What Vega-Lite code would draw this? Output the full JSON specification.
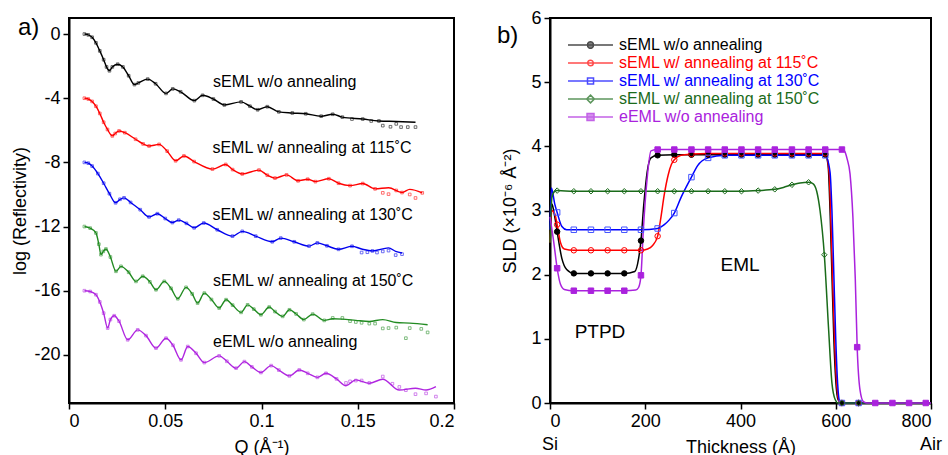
{
  "$schema": "https://vega.github.io/schema/vega-lite/v6.json",
  "background": "white",
  "padding": {"left": 10, "top": 8, "right": 0, "bottom": 0},
  "spacing": 40,
  "config": {
    "font": "Liberation Sans",
    "view": {"stroke": "black", "strokeWidth": 2},
    "axis": {"grid": false, "domainColor": "black", "domainWidth": 2, "tickColor": "black", "tickWidth": 1.5, "tickSize": 6, "labelColor": "black", "titleColor": "black", "labelFontSize": 18, "titleFontSize": 18, "titleFontWeight": "normal", "labelFont": "Liberation Sans", "titleFont": "Liberation Sans", "labelPadding": 3},
    "title": {"fontSize": 24, "fontWeight": "normal", "font": "Liberation Sans", "anchor": "start", "frame": "group", "color": "black"}
  },
  "resolve": {"scale": {"color": "independent", "shape": "independent", "fill": "independent", "stroke": "independent"}, "legend": {"shape": "independent", "color": "independent", "fill": "independent", "stroke": "independent"}},
  "datasets": {
    "refl": [
      {"s":"k","q":0.008,"f":0,"d":0},{"s":"k","q":0.010,"f":-0.05,"d":-0.05},{"s":"k","q":0.012,"f":-0.2,"d":-0.2},{"s":"k","q":0.014,"f":-0.55,"d":-0.55},{"s":"k","q":0.016,"f":-1.05,"d":-1.05},{"s":"k","q":0.018,"f":-1.6,"d":-1.6},{"s":"k","q":0.0195,"f":-2.05,"d":-2.05},{"s":"k","q":0.021,"f":-2.29,"d":-2.29},{"s":"k","q":0.0225,"f":-2.05,"d":-2.05},{"s":"k","q":0.0253,"f":-1.88,"d":-1.88},{"s":"k","q":0.028,"f":-2.05,"d":-2.05},{"s":"k","q":0.031,"f":-2.6,"d":-2.6},{"s":"k","q":0.034,"f":-3.15,"d":-3.15},{"s":"k","q":0.036,"f":-3.05,"d":-3.05},{"s":"k","q":0.0409,"f":-2.81,"d":-2.81},{"s":"k","q":0.045,"f":-3.1,"d":-3.1},{"s":"k","q":0.0504,"f":-3.7,"d":-3.7},{"s":"k","q":0.0539,"f":-3.42,"d":-3.42},{"s":"k","q":0.058,"f":-3.6,"d":-3.6},{"s":"k","q":0.0651,"f":-4.15,"d":-4.15},{"s":"k","q":0.0694,"f":-3.82,"d":-3.82},{"s":"k","q":0.075,"f":-4.05,"d":-4.05},{"s":"k","q":0.0807,"f":-4.42,"d":-4.42},{"s":"k","q":0.0894,"f":-4.23,"d":-4.23},{"s":"k","q":0.094,"f":-4.5,"d":-4.5},{"s":"k","q":0.098,"f":-4.72,"d":-4.72},{"s":"k","q":0.103,"f":-4.53,"d":-4.53},{"s":"k","q":0.109,"f":-4.85,"d":-4.85},{"s":"k","q":0.116,"f":-4.92,"d":-4.92},{"s":"k","q":0.123,"f":-4.97,"d":-4.97},{"s":"k","q":0.131,"f":-5.12,"d":-5.12},{"s":"k","q":0.137,"f":-5.0,"d":-5.0},{"s":"k","q":0.142,"f":-5.18,"d":-5.18},{"s":"k","q":0.1526,"f":-5.3,"d":-5.3},{"s":"k","q":0.161,"f":-5.42,"d":-5.42},{"s":"k","q":0.170,"f":-5.45,"d":-5.6},{"s":"k","q":0.180,"f":-5.5,"d":-5.8},{"s":"k","q":0.163,"d":-5.71},{"s":"k","q":0.167,"d":-5.78},{"s":"k","q":0.1725,"d":-5.8},{"s":"k","q":0.176,"d":-5.8},{"s":"k","q":0.157,"d":-5.42},{"s":"k","q":0.147,"d":-5.3},
      {"s":"r","q":0.008,"f":-4.0,"d":-4.0},{"s":"r","q":0.010,"f":-4.05,"d":-4.05},{"s":"r","q":0.012,"f":-4.2,"d":-4.2},{"s":"r","q":0.014,"f":-4.5,"d":-4.5},{"s":"r","q":0.016,"f":-4.95,"d":-4.95},{"s":"r","q":0.018,"f":-5.5,"d":-5.5},{"s":"r","q":0.020,"f":-5.95,"d":-5.95},{"s":"r","q":0.0225,"f":-6.35,"d":-6.35},{"s":"r","q":0.024,"f":-6.2,"d":-6.2},{"s":"r","q":0.026,"f":-6.04,"d":-6.04},{"s":"r","q":0.029,"f":-6.15,"d":-6.15},{"s":"r","q":0.0346,"f":-6.56,"d":-6.56},{"s":"r","q":0.0385,"f":-6.85,"d":-6.85},{"s":"r","q":0.0416,"f":-6.98,"d":-6.98},{"s":"r","q":0.0468,"f":-6.88,"d":-6.88},{"s":"r","q":0.051,"f":-7.3,"d":-7.3},{"s":"r","q":0.0554,"f":-7.9,"d":-7.9},{"s":"r","q":0.0597,"f":-7.6,"d":-7.6},{"s":"r","q":0.065,"f":-7.95,"d":-7.95},{"s":"r","q":0.0745,"f":-8.42,"d":-8.42},{"s":"r","q":0.0814,"f":-8.13,"d":-8.13},{"s":"r","q":0.085,"f":-8.45,"d":-8.45},{"s":"r","q":0.090,"f":-8.72,"d":-8.72},{"s":"r","q":0.0987,"f":-8.48,"d":-8.48},{"s":"r","q":0.103,"f":-8.8,"d":-8.8},{"s":"r","q":0.107,"f":-8.98,"d":-8.98},{"s":"r","q":0.113,"f":-8.78,"d":-8.78},{"s":"r","q":0.119,"f":-9.15,"d":-9.15},{"s":"r","q":0.124,"f":-9.05,"d":-9.05},{"s":"r","q":0.128,"f":-9.2,"d":-9.2},{"s":"r","q":0.135,"f":-9.02,"d":-9.02},{"s":"r","q":0.140,"f":-9.3,"d":-9.3},{"s":"r","q":0.146,"f":-9.45,"d":-9.45},{"s":"r","q":0.1526,"f":-9.32,"d":-9.32},{"s":"r","q":0.159,"f":-9.65,"d":-9.65},{"s":"r","q":0.166,"f":-9.58,"d":-9.98},{"s":"r","q":0.173,"f":-9.88,"d":-9.88},{"s":"r","q":0.177,"f":-9.68,"d":-10.0},{"s":"r","q":0.1835,"f":-9.9,"d":-9.9},{"s":"r","q":0.163,"d":-9.9},{"s":"r","q":0.180,"d":-10.22},{"s":"r","q":0.170,"d":-9.75},
      {"s":"b","q":0.008,"f":-8.0,"d":-8.0},{"s":"b","q":0.010,"f":-8.05,"d":-8.05},{"s":"b","q":0.012,"f":-8.23,"d":-8.23},{"s":"b","q":0.015,"f":-8.7,"d":-8.7},{"s":"b","q":0.018,"f":-9.3,"d":-9.3},{"s":"b","q":0.021,"f":-9.95,"d":-9.95},{"s":"b","q":0.0242,"f":-10.52,"d":-10.52},{"s":"b","q":0.0265,"f":-10.3,"d":-10.3},{"s":"b","q":0.0286,"f":-10.21,"d":-10.21},{"s":"b","q":0.032,"f":-10.5,"d":-10.5},{"s":"b","q":0.037,"f":-10.95,"d":-10.95},{"s":"b","q":0.0416,"f":-11.4,"d":-11.4},{"s":"b","q":0.0459,"f":-11.2,"d":-11.2},{"s":"b","q":0.050,"f":-11.5,"d":-11.5},{"s":"b","q":0.0537,"f":-11.75,"d":-11.75},{"s":"b","q":0.057,"f":-11.6,"d":-11.6},{"s":"b","q":0.061,"f":-11.8,"d":-11.8},{"s":"b","q":0.065,"f":-12.08,"d":-12.08},{"s":"b","q":0.070,"f":-11.78,"d":-11.78},{"s":"b","q":0.077,"f":-12.2,"d":-12.2},{"s":"b","q":0.0849,"f":-12.6,"d":-12.6},{"s":"b","q":0.090,"f":-12.3,"d":-12.3},{"s":"b","q":0.097,"f":-12.6,"d":-12.6},{"s":"b","q":0.1056,"f":-12.95,"d":-12.95},{"s":"b","q":0.110,"f":-12.72,"d":-12.72},{"s":"b","q":0.117,"f":-12.95,"d":-12.95},{"s":"b","q":0.1247,"f":-13.22,"d":-13.22},{"s":"b","q":0.129,"f":-13.02,"d":-13.02},{"s":"b","q":0.134,"f":-13.2,"d":-13.2},{"s":"b","q":0.140,"f":-13.42,"d":-13.42},{"s":"b","q":0.147,"f":-13.23,"d":-13.23},{"s":"b","q":0.152,"f":-13.4,"d":-13.62},{"s":"b","q":0.1576,"f":-13.52,"d":-13.52},{"s":"b","q":0.166,"f":-13.33,"d":-13.5},{"s":"b","q":0.1697,"f":-13.55,"d":-13.78},{"s":"b","q":0.173,"f":-13.65,"d":-13.72},{"s":"b","q":0.155,"d":-13.6},{"s":"b","q":0.160,"d":-13.62},{"s":"b","q":0.163,"d":-13.55},
      {"s":"g","q":0.008,"f":-12.0,"d":-12.0},{"s":"g","q":0.011,"f":-12.1,"d":-12.1},{"s":"g","q":0.014,"f":-12.4,"d":-12.4},{"s":"g","q":0.0155,"f":-13.1,"d":-13.1},{"s":"g","q":0.0166,"f":-13.75,"d":-13.75},{"s":"g","q":0.0178,"f":-13.55,"d":-13.55},{"s":"g","q":0.0192,"f":-13.4,"d":-13.4},{"s":"g","q":0.0215,"f":-13.9,"d":-13.9},{"s":"g","q":0.0244,"f":-14.79,"d":-14.79},{"s":"g","q":0.027,"f":-14.48,"d":-14.48},{"s":"g","q":0.031,"f":-14.85,"d":-14.85},{"s":"g","q":0.0348,"f":-15.42,"d":-15.42},{"s":"g","q":0.0383,"f":-15.1,"d":-15.1},{"s":"g","q":0.042,"f":-15.45,"d":-15.45},{"s":"g","q":0.0452,"f":-15.94,"d":-15.94},{"s":"g","q":0.0495,"f":-15.42,"d":-15.42},{"s":"g","q":0.053,"f":-15.85,"d":-15.85},{"s":"g","q":0.0565,"f":-16.5,"d":-16.5},{"s":"g","q":0.0608,"f":-15.79,"d":-15.79},{"s":"g","q":0.064,"f":-16.2,"d":-16.2},{"s":"g","q":0.0668,"f":-16.77,"d":-16.77},{"s":"g","q":0.0703,"f":-16.15,"d":-16.15},{"s":"g","q":0.074,"f":-16.55,"d":-16.55},{"s":"g","q":0.078,"f":-17.08,"d":-17.08},{"s":"g","q":0.0816,"f":-16.56,"d":-16.56},{"s":"g","q":0.085,"f":-16.9,"d":-16.9},{"s":"g","q":0.0894,"f":-17.35,"d":-17.35},{"s":"g","q":0.0928,"f":-16.88,"d":-16.88},{"s":"g","q":0.096,"f":-17.15,"d":-17.15},{"s":"g","q":0.0997,"f":-17.5,"d":-17.5},{"s":"g","q":0.104,"f":-17.02,"d":-17.02},{"s":"g","q":0.107,"f":-17.3,"d":-17.3},{"s":"g","q":0.111,"f":-17.6,"d":-17.6},{"s":"g","q":0.1145,"f":-17.19,"d":-17.19},{"s":"g","q":0.118,"f":-17.45,"d":-17.45},{"s":"g","q":0.122,"f":-17.8,"d":-17.8},{"s":"g","q":0.1266,"f":-17.46,"d":-17.46},{"s":"g","q":0.1326,"f":-17.85,"d":-17.85},{"s":"g","q":0.137,"f":-17.75,"d":-17.7},{"s":"g","q":0.142,"f":-17.77,"d":-17.7},{"s":"g","q":0.149,"f":-17.85,"d":-17.95},{"s":"g","q":0.156,"f":-17.92,"d":-18.05},{"s":"g","q":0.163,"f":-17.8,"d":-18.35},{"s":"g","q":0.170,"f":-17.98,"d":-18.3},{"s":"g","q":0.177,"f":-18.02,"d":-18.33},{"s":"g","q":0.1863,"f":-18.12,"d":-18.6},{"s":"g","q":0.146,"d":-17.9},{"s":"g","q":0.152,"d":-18.0},{"s":"g","q":0.159,"d":-18.05},{"s":"g","q":0.166,"d":-18.33},{"s":"g","q":0.175,"d":-18.96},{"s":"g","q":0.183,"d":-18.38},
      {"s":"m","q":0.008,"f":-16.0,"d":-16.0},{"s":"m","q":0.011,"f":-16.05,"d":-16.05},{"s":"m","q":0.014,"f":-16.25,"d":-16.25},{"s":"m","q":0.016,"f":-16.7,"d":-16.7},{"s":"m","q":0.018,"f":-17.4,"d":-17.4},{"s":"m","q":0.0201,"f":-18.33,"d":-18.33},{"s":"m","q":0.0215,"f":-17.8,"d":-17.8},{"s":"m","q":0.0235,"f":-17.56,"d":-17.56},{"s":"m","q":0.026,"f":-17.9,"d":-17.9},{"s":"m","q":0.0305,"f":-19.06,"d":-19.06},{"s":"m","q":0.0357,"f":-18.44,"d":-18.44},{"s":"m","q":0.040,"f":-18.8,"d":-18.8},{"s":"m","q":0.0452,"f":-19.58,"d":-19.58},{"s":"m","q":0.0504,"f":-18.96,"d":-18.96},{"s":"m","q":0.054,"f":-19.4,"d":-19.4},{"s":"m","q":0.0582,"f":-20.31,"d":-20.31},{"s":"m","q":0.0617,"f":-19.48,"d":-19.48},{"s":"m","q":0.066,"f":-19.9,"d":-19.9},{"s":"m","q":0.0703,"f":-20.48,"d":-20.48},{"s":"m","q":0.078,"f":-20.06,"d":-20.06},{"s":"m","q":0.082,"f":-20.4,"d":-20.4},{"s":"m","q":0.0868,"f":-20.83,"d":-20.83},{"s":"m","q":0.0911,"f":-20.42,"d":-20.42},{"s":"m","q":0.095,"f":-20.75,"d":-20.75},{"s":"m","q":0.0997,"f":-21.1,"d":-21.1},{"s":"m","q":0.105,"f":-20.67,"d":-20.67},{"s":"m","q":0.109,"f":-20.95,"d":-20.95},{"s":"m","q":0.1145,"f":-21.31,"d":-21.31},{"s":"m","q":0.1196,"f":-20.94,"d":-20.94},{"s":"m","q":0.124,"f":-21.15,"d":-21.15},{"s":"m","q":0.129,"f":-21.4,"d":-21.4},{"s":"m","q":0.1335,"f":-21.15,"d":-21.15},{"s":"m","q":0.139,"f":-21.5,"d":-21.5},{"s":"m","q":0.1439,"f":-21.92,"d":-21.75},{"s":"m","q":0.149,"f":-21.56,"d":-21.6},{"s":"m","q":0.156,"f":-21.77,"d":-21.75},{"s":"m","q":0.163,"f":-21.52,"d":-21.35},{"s":"m","q":0.1716,"f":-22.19,"d":-22.0},{"s":"m","q":0.180,"f":-22.08,"d":-22.45},{"s":"m","q":0.1855,"f":-22.19,"d":-22.4},{"s":"m","q":0.1906,"f":-21.98,"d":-22.6},{"s":"m","q":0.146,"d":-21.65},{"s":"m","q":0.152,"d":-21.6},{"s":"m","q":0.175,"d":-22.2},{"s":"m","q":0.168,"d":-21.8}
    ],
    "sld": [
      {"s":"k","t":0,"v":2.4},{"s":"k","t":4,"v":3.1},{"s":"k","t":10,"v":2.9},{"s":"k","t":15,"v":2.67,"m":1},{"s":"k","t":25,"v":2.25},{"s":"k","t":35,"v":2.08},{"s":"k","t":50,"v":2.02,"m":1},{"s":"k","t":86,"v":2.02,"m":1},{"s":"k","t":121,"v":2.02,"m":1},{"s":"k","t":156,"v":2.02,"m":1},{"s":"k","t":178,"v":2.05},{"s":"k","t":186,"v":2.25},{"s":"k","t":191,"v":2.53,"m":1},{"s":"k","t":197,"v":3.1},{"s":"k","t":204,"v":3.6},{"s":"k","t":212,"v":3.82},{"s":"k","t":226,"v":3.86,"m":1},{"s":"k","t":261,"v":3.87,"m":1},{"s":"k","t":297,"v":3.87,"m":1},{"s":"k","t":332,"v":3.87,"m":1},{"s":"k","t":367,"v":3.87,"m":1},{"s":"k","t":402,"v":3.87,"m":1},{"s":"k","t":437,"v":3.87,"m":1},{"s":"k","t":472,"v":3.87,"m":1},{"s":"k","t":508,"v":3.87,"m":1},{"s":"k","t":543,"v":3.87,"m":1},{"s":"k","t":578,"v":3.87,"m":1},{"s":"k","t":584,"v":3.7},{"s":"k","t":588,"v":3.0},{"s":"k","t":592,"v":2.0},{"s":"k","t":596,"v":1.0},{"s":"k","t":600,"v":0.35},{"s":"k","t":605,"v":0.05},{"s":"k","t":613,"v":0,"m":1},{"s":"k","t":648,"v":0,"m":1},{"s":"k","t":800,"v":0},
      {"s":"r","t":0,"v":2.5},{"s":"r","t":4,"v":3.0},{"s":"r","t":10,"v":2.95},{"s":"r","t":15,"v":2.78,"m":1},{"s":"r","t":22,"v":2.5},{"s":"r","t":30,"v":2.4},{"s":"r","t":50,"v":2.38,"m":1},{"s":"r","t":86,"v":2.38,"m":1},{"s":"r","t":121,"v":2.38,"m":1},{"s":"r","t":156,"v":2.38,"m":1},{"s":"r","t":191,"v":2.38,"m":1},{"s":"r","t":205,"v":2.4},{"s":"r","t":215,"v":2.45},{"s":"r","t":226,"v":2.6,"m":1},{"s":"r","t":232,"v":2.85},{"s":"r","t":240,"v":3.25},{"s":"r","t":248,"v":3.55},{"s":"r","t":255,"v":3.72},{"s":"r","t":261,"v":3.79,"m":1},{"s":"r","t":275,"v":3.86},{"s":"r","t":297,"v":3.88,"m":1},{"s":"r","t":332,"v":3.89,"m":1},{"s":"r","t":367,"v":3.89,"m":1},{"s":"r","t":402,"v":3.89,"m":1},{"s":"r","t":437,"v":3.89,"m":1},{"s":"r","t":472,"v":3.89,"m":1},{"s":"r","t":508,"v":3.89,"m":1},{"s":"r","t":543,"v":3.89,"m":1},{"s":"r","t":578,"v":3.89,"m":1},{"s":"r","t":586,"v":3.6},{"s":"r","t":590,"v":2.8},{"s":"r","t":594,"v":1.8},{"s":"r","t":598,"v":0.9},{"s":"r","t":602,"v":0.3},{"s":"r","t":607,"v":0.03},{"s":"r","t":613,"v":0,"m":1},{"s":"r","t":648,"v":0,"m":1},{"s":"r","t":800,"v":0},
      {"s":"b","t":0,"v":2.7},{"s":"b","t":3,"v":3.35},{"s":"b","t":10,"v":3.1},{"s":"b","t":15,"v":2.97,"m":1},{"s":"b","t":25,"v":2.75},{"s":"b","t":35,"v":2.7},{"s":"b","t":50,"v":2.7,"m":1},{"s":"b","t":86,"v":2.7,"m":1},{"s":"b","t":121,"v":2.7,"m":1},{"s":"b","t":156,"v":2.7,"m":1},{"s":"b","t":191,"v":2.7,"m":1},{"s":"b","t":226,"v":2.72,"m":1},{"s":"b","t":240,"v":2.78},{"s":"b","t":250,"v":2.85},{"s":"b","t":261,"v":2.96,"m":1},{"s":"b","t":275,"v":3.2},{"s":"b","t":297,"v":3.52,"m":1},{"s":"b","t":310,"v":3.7},{"s":"b","t":332,"v":3.82,"m":1},{"s":"b","t":367,"v":3.86,"m":1},{"s":"b","t":402,"v":3.86,"m":1},{"s":"b","t":437,"v":3.86,"m":1},{"s":"b","t":472,"v":3.86,"m":1},{"s":"b","t":508,"v":3.86,"m":1},{"s":"b","t":543,"v":3.86,"m":1},{"s":"b","t":578,"v":3.86,"m":1},{"s":"b","t":588,"v":3.6},{"s":"b","t":592,"v":3.0},{"s":"b","t":596,"v":2.0},{"s":"b","t":600,"v":1.0},{"s":"b","t":604,"v":0.3},{"s":"b","t":608,"v":0.03},{"s":"b","t":613,"v":0,"m":1},{"s":"b","t":648,"v":0,"m":1},{"s":"b","t":800,"v":0},
      {"s":"g","t":0,"v":2.5},{"s":"g","t":4,"v":3.2},{"s":"g","t":10,"v":3.3},{"s":"g","t":15,"v":3.31,"m":1},{"s":"g","t":50,"v":3.3,"m":1},{"s":"g","t":86,"v":3.3,"m":1},{"s":"g","t":121,"v":3.3,"m":1},{"s":"g","t":156,"v":3.3,"m":1},{"s":"g","t":191,"v":3.3,"m":1},{"s":"g","t":226,"v":3.3,"m":1},{"s":"g","t":261,"v":3.3,"m":1},{"s":"g","t":297,"v":3.3,"m":1},{"s":"g","t":332,"v":3.3,"m":1},{"s":"g","t":367,"v":3.3,"m":1},{"s":"g","t":402,"v":3.3,"m":1},{"s":"g","t":437,"v":3.31,"m":1},{"s":"g","t":472,"v":3.33,"m":1},{"s":"g","t":490,"v":3.36},{"s":"g","t":508,"v":3.4,"m":1},{"s":"g","t":525,"v":3.43},{"s":"g","t":543,"v":3.44,"m":1},{"s":"g","t":552,"v":3.42},{"s":"g","t":560,"v":3.3},{"s":"g","t":567,"v":3.0},{"s":"g","t":576,"v":2.31,"m":1},{"s":"g","t":585,"v":1.15},{"s":"g","t":592,"v":0.31},{"s":"g","t":599,"v":0.05},{"s":"g","t":605,"v":0},{"s":"g","t":613,"v":0,"m":1},{"s":"g","t":648,"v":0,"m":1},{"s":"g","t":800,"v":0},
      {"s":"m","t":0,"v":2.9},{"s":"m","t":8,"v":2.5},{"s":"m","t":15,"v":2.1,"m":1},{"s":"m","t":22,"v":1.85},{"s":"m","t":30,"v":1.77},{"s":"m","t":50,"v":1.75,"m":1},{"s":"m","t":86,"v":1.75,"m":1},{"s":"m","t":121,"v":1.75,"m":1},{"s":"m","t":156,"v":1.75,"m":1},{"s":"m","t":180,"v":1.76},{"s":"m","t":186,"v":1.8},{"s":"m","t":191,"v":1.99,"m":1},{"s":"m","t":196,"v":2.7},{"s":"m","t":204,"v":3.5},{"s":"m","t":212,"v":3.93},{"s":"m","t":226,"v":3.95,"m":1},{"s":"m","t":261,"v":3.95,"m":1},{"s":"m","t":297,"v":3.95,"m":1},{"s":"m","t":332,"v":3.95,"m":1},{"s":"m","t":367,"v":3.95,"m":1},{"s":"m","t":402,"v":3.95,"m":1},{"s":"m","t":437,"v":3.95,"m":1},{"s":"m","t":472,"v":3.95,"m":1},{"s":"m","t":508,"v":3.95,"m":1},{"s":"m","t":543,"v":3.95,"m":1},{"s":"m","t":578,"v":3.95,"m":1},{"s":"m","t":613,"v":3.95,"m":1},{"s":"m","t":618,"v":3.93},{"s":"m","t":624,"v":3.8},{"s":"m","t":630,"v":3.57},{"s":"m","t":636,"v":2.9},{"s":"m","t":641,"v":1.94},{"s":"m","t":645,"v":0.87,"m":1},{"s":"m","t":651,"v":0.2},{"s":"m","t":658,"v":0.02},{"s":"m","t":665,"v":0},{"s":"m","t":683,"v":0,"m":1},{"s":"m","t":719,"v":0,"m":1},{"s":"m","t":754,"v":0,"m":1},{"s":"m","t":789,"v":0,"m":1},{"s":"m","t":800,"v":0}
    ]
  },
  "hconcat": [
    {
      "width": 385,
      "height": 385,
      "title": {"text": "a)", "dx": -51, "dy": 22, "offset": 0},
      "layer": [
        {
          "data": {"name": "refl"},
          "mark": {"type": "line", "strokeWidth": 1.4, "interpolate": "monotone", "invalid": "filter"},
          "encoding": {
            "x": {"field": "q", "type": "quantitative", "scale": {"domain": [0, 0.2], "nice": false}, "axis": {"values": [0, 0.05, 0.1, 0.15, 0.2], "format": "~g", "title": "Q (Å⁻¹)", "titlePadding": 8}},
            "y": {"field": "f", "type": "quantitative", "scale": {"domain": [-23, 1], "nice": false, "zero": false}, "axis": {"values": [0, -4, -8, -12, -16, -20], "labelExpr": "'' + datum.value", "title": "log (Reflectivity)", "titlePadding": 4}},
            "color": {"field": "s", "type": "nominal", "scale": {"domain": ["k", "r", "b", "g", "m"], "range": ["#000000", "#ff0000", "#0000ee", "#228b22", "#b026e0"]}, "legend": null}
          }
        },
        {
          "data": {"name": "refl"},
          "mark": {"type": "point", "shape": "square", "size": 7, "filled": false, "strokeWidth": 0.8, "invalid": "filter"},
          "encoding": {
            "x": {"field": "q", "type": "quantitative"},
            "y": {"field": "d", "type": "quantitative"},
            "color": {"field": "s", "type": "nominal", "legend": null}
          }
        },
        {
          "data": {"values": [
            {"q": 0.0748, "v": -3.02, "lab": "sEML w/o annealing"},
            {"q": 0.0745, "v": -7.08, "lab": "sEML w/ annealing at 115˚C"},
            {"q": 0.0745, "v": -11.25, "lab": "sEML w/ annealing at 130˚C"},
            {"q": 0.0748, "v": -15.42, "lab": "sEML w/ annealing at 150˚C"},
            {"q": 0.0748, "v": -19.17, "lab": "eEML w/o annealing"}
          ]},
          "mark": {"type": "text", "align": "left", "baseline": "middle", "fontSize": 16, "color": "black"},
          "encoding": {
            "x": {"field": "q", "type": "quantitative"},
            "y": {"field": "v", "type": "quantitative"},
            "text": {"field": "lab"}
          }
        }
      ]
    },
    {
      "width": 381,
      "height": 385,
      "title": {"text": "b)", "dx": -53, "dy": 39, "offset": 0},
      "resolve": {"scale": {"shape": "independent", "stroke": "independent", "fill": "independent"}, "legend": {"shape": "independent", "stroke": "independent", "fill": "independent"}},
      "layer": [
        {
          "data": {"name": "sld"},
          "mark": {"type": "line", "strokeWidth": 1.5, "interpolate": "monotone"},
          "encoding": {
            "x": {"field": "t", "type": "quantitative", "scale": {"domain": [0, 800], "nice": false}, "axis": {"values": [0, 200, 400, 600, 800], "title": "Thickness (Å)", "titlePadding": 8}},
            "y": {"field": "v", "type": "quantitative", "scale": {"domain": [0, 6], "nice": false}, "axis": {"values": [0, 1, 2, 3, 4, 5, 6], "format": "d", "title": "SLD (×10⁻⁶ Å⁻²)", "titlePadding": 11}},
            "color": {"field": "s", "type": "nominal", "scale": {"domain": ["k", "r", "b", "g", "m"], "range": ["#000000", "#ff0000", "#0000ff", "#1a6b1a", "#aa22dd"]}, "legend": null}
          }
        },
        {
          "data": {"name": "sld"},
          "transform": [{"filter": "datum.m == 1"}],
          "mark": {"type": "point", "filled": true, "size": 30, "strokeWidth": 1, "opacity": 1},
          "encoding": {
            "x": {"field": "t", "type": "quantitative"},
            "y": {"field": "v", "type": "quantitative"},
            "stroke": {"field": "s", "type": "nominal", "scale": {"domain": ["k", "r", "b", "g", "m"], "range": ["#000000", "#ff0000", "#4455ff", "#1a6b1a", "#aa22dd"]}, "legend": null},
            "fill": {"field": "s", "type": "nominal", "scale": {"domain": ["k", "r", "b", "g", "m"], "range": ["#000000", "transparent", "transparent", "transparent", "#aa22dd"]}, "legend": null},
            "shape": {"field": "s", "type": "nominal", "scale": {"domain": ["k", "r", "b", "g", "m"], "range": ["circle", "circle", "square", "diamond", "square"]}, "legend": null}
          }
        },
        {
          "data": {"name": "sld"},
          "transform": [{"filter": "false"}],
          "mark": {"type": "point", "filled": true, "strokeWidth": 1.5},
          "encoding": {
            "x": {"field": "t", "type": "quantitative"},
            "y": {"field": "v", "type": "quantitative"},
            "stroke": {
              "field": "s", "type": "nominal",
              "scale": {"domain": ["k", "r", "b", "g", "m"], "range": ["#000000", "#ff0000", "#0000ff", "#1a6b1a", "#aa22dd"]},
              "legend": {
                "title": null, "orient": "none", "legendX": 18, "legendY": 18.5, "padding": 0,
                "labelFontSize": 16, "labelFont": "Liberation Sans", "labelLimit": 400, "symbolSize": 240, "symbolStrokeWidth": 1.5, "labelOffset": 34, "rowPadding": 1,
                "labelColor": {"expr": "datum.value === 'k' ? '#000000' : datum.value === 'r' ? '#ff0000' : datum.value === 'b' ? '#0000ff' : datum.value === 'g' ? '#1a6b1a' : '#aa22dd'"}
              }
            },
            "fill": {
              "field": "s", "type": "nominal",
              "scale": {"domain": ["k", "r", "b", "g", "m"], "range": ["#000000", "transparent", "transparent", "transparent", "#aa22dd"]},
              "legend": {
                "title": null, "orient": "none", "legendX": 18, "legendY": 18.5, "padding": 0,
                "labelFontSize": 16, "labelFont": "Liberation Sans", "labelLimit": 400, "symbolSize": 240, "symbolStrokeWidth": 1.5, "labelOffset": 34, "rowPadding": 1,
                "labelColor": {"expr": "datum.value === 'k' ? '#000000' : datum.value === 'r' ? '#ff0000' : datum.value === 'b' ? '#0000ff' : datum.value === 'g' ? '#1a6b1a' : '#aa22dd'"}
              }
            },
            "shape": {
              "field": "s", "type": "nominal",
              "scale": {"domain": ["k", "r", "b", "g", "m"], "range": [
                "M-1.1,0H4.71M1.42,0A0.387,0.387 0 1,0 2.19,0A0.387,0.387 0 1,0 1.42,0",
                "M-1.1,0H4.71M1.45,0A0.36,0.36 0 1,0 2.17,0A0.36,0.36 0 1,0 1.45,0",
                "M-1.1,0H4.71M1.42,-0.39H2.2V0.39H1.42Z",
                "M-1.1,0H4.71M1.81,-0.5L2.31,0L1.81,0.5L1.31,0Z",
                "M-1.1,0H4.71M1.36,-0.45H2.26V0.45H1.36Z"
              ]},
              "legend": {
                "title": null, "orient": "none", "legendX": 18, "legendY": 18.5, "padding": 0,
                "labelFontSize": 16, "labelFont": "Liberation Sans", "labelLimit": 400, "symbolSize": 240, "symbolStrokeWidth": 1.5, "labelOffset": 34, "rowPadding": 1,
                "labelColor": {"expr": "datum.value === 'k' ? '#000000' : datum.value === 'r' ? '#ff0000' : datum.value === 'b' ? '#0000ff' : datum.value === 'g' ? '#1a6b1a' : '#aa22dd'"},
                "labelExpr": "datum.label === 'k' ? 'sEML w/o annealing' : datum.label === 'r' ? 'sEML w/ annealing at 115˚C' : datum.label === 'b' ? 'sEML w/ annealing at 130˚C' : datum.label === 'g' ? 'sEML w/ annealing at 150˚C' : 'eEML w/o annealing'"
              }
            }
          }
        },
        {
          "data": {"values": [
            {"t": 105, "v": 1.1, "lab": "PTPD"},
            {"t": 399, "v": 2.15, "lab": "EML"}
          ]},
          "mark": {"type": "text", "align": "center", "baseline": "middle", "fontSize": 19, "color": "black"},
          "encoding": {
            "x": {"field": "t", "type": "quantitative"},
            "y": {"field": "v", "type": "quantitative"},
            "text": {"field": "lab"}
          }
        },
        {
          "data": {"values": [
            {"t": 0, "v": 0, "lab": "Si"},
            {"t": 800, "v": 0, "lab": "Air"}
          ]},
          "mark": {"type": "text", "align": "center", "baseline": "middle", "fontSize": 18, "color": "black", "dy": 42},
          "encoding": {
            "x": {"field": "t", "type": "quantitative"},
            "y": {"field": "v", "type": "quantitative"},
            "text": {"field": "lab"}
          }
        }
      ]
    }
  ]
}
